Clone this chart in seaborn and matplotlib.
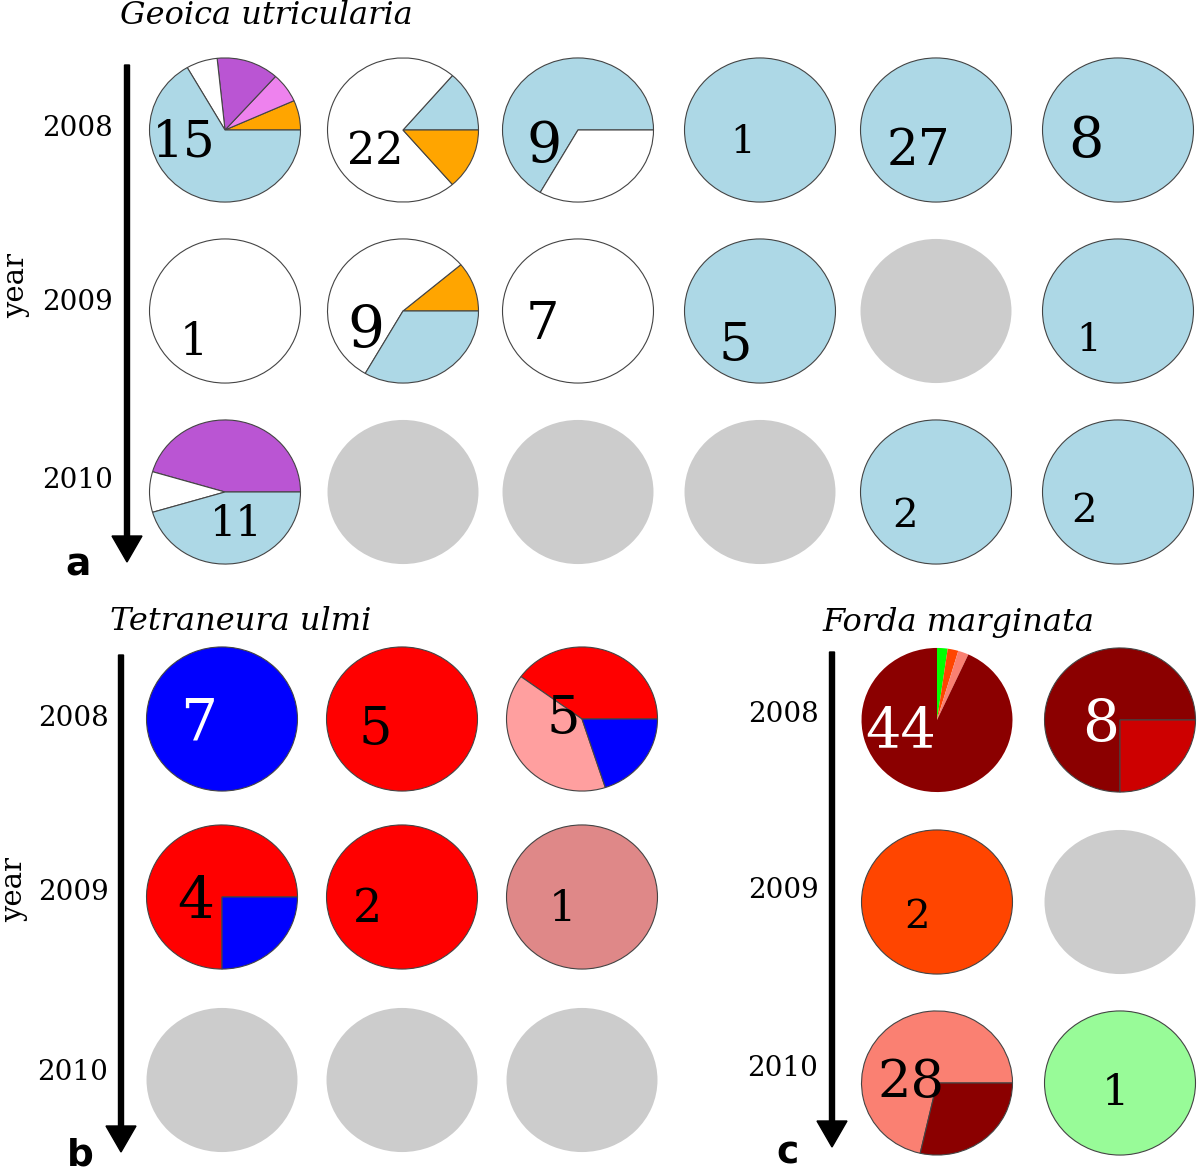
import matplotlib
matplotlib.use("Agg")
import matplotlib.pyplot as plt
import seaborn as sns

sns.set_theme(style="white")
plt.rcParams['font.family'] = ['DejaVu Serif']
plt.rcParams['text.color'] = 'black'

years = ['2008', '2009', '2010']
nodata = '#cccccc'

# Geoica utricularia: slice counts and colours, rows = years, cols = sites
geoica_values = [
    [[1, 1, 2, 1, 10], [3, 16, 3], [6, 3], [1], [27], [8]],
    [[1], [1, 5, 3], [7], [5], [], [1]],
    [[5, 1, 5], [], [], [], [2], [2]],
]
geoica_colors = [
    [['orange', 'violet', 'mediumorchid', 'white', 'lightblue'], ['lightblue', 'white', 'orange'],
     ['lightblue', 'white'], ['lightblue'], ['lightblue'], ['lightblue']],
    [['white'], ['orange', 'white', 'lightblue'], ['white'], ['lightblue'], [], ['lightblue']],
    [['mediumorchid', 'white', 'lightblue'], [], [], [], ['lightblue'], ['lightblue']],
]

# Tetraneura ulmi
tetra_values = [
    [[7], [5], [2, 2, 1]],
    [[3, 1], [2], [1]],
    [[], [], []],
]
tetra_colors = [
    [['blue'], ['red'], ['red', '#ff9f9f', 'blue']],
    [['red', 'blue'], ['red'], ['#df8888']],
    [[], [], []],
]

# Forda marginata
forda_values = [
    [[1, 1, 1, 41], [6, 2]],
    [[2], []],
    [[20, 8], [1]],
]
forda_colors = [
    [['#00ff00', 'orangered', 'salmon', 'darkred'], ['darkred', '#cd0000']],
    [['orangered'], []],
    [['salmon', 'darkred'], ['palegreen']],
]

W, H = 1200, 1175
fig = plt.figure(figsize=(12, 11.75), dpi=100)

# overlay for arrows and text, pixel coordinates
ov = fig.add_axes([0, 0, 1, 1], zorder=0)
ov.set_xlim(0, W)
ov.set_ylim(H, 0)
ov.axis('off')


def draw_panel(values, colors, xs, ys, offsets, sizes, white_labels=(), special=None):
    for r, row in enumerate(values):
        for c, vals in enumerate(row):
            cx, cy = xs[c], ys[r]
            w, h = 154, 147
            ax = fig.add_axes([(cx - w / 2) / W, 1 - (cy + h / 2) / H, w / W, h / H], zorder=2)
            if len(vals) == 0:
                ax.pie([1], colors=[nodata], wedgeprops=dict(linewidth=0))
            else:
                start, ccw, lw = 0, True, 0.8
                if special == (r, c):
                    start, ccw, lw = 90, False, 0
                ax.pie(vals, colors=colors[r][c], startangle=start, counterclock=ccw,
                       wedgeprops=dict(edgecolor='#444444', linewidth=lw))
                dx, dy = offsets[r][c]
                dy += 5
                tc = 'white' if (r, c) in white_labels else 'black'
                ax.text(dx / (w / 2), -dy / (h / 2), str(sum(vals)), ha='center', va='center',
                        fontsize=sizes[r][c], color=tc)
            ax.set_aspect('auto')
            ax.set_xlim(-1.02, 1.02)
            ax.set_ylim(-1.02, 1.02)
            ax.axis('off')


# panel a
draw_panel(geoica_values, geoica_colors,
           [225, 403, 578, 760, 936, 1118], [130, 311, 492],
           [[(-42, 8), (-28, 17), (-35, 12), (-18, 8), (-18, 17), (-33, 7)],
            [(-32, 27), (-38, 15), (-36, 9), (-25, 30), (None, None), (-30, 25)],
            [(12, 28), (None, None), (None, None), (None, None), (-32, 20), (-35, 15)]],
           [[36, 32, 40, 28, 36, 40], [32, 42, 38, 38, 0, 28], [30, 0, 0, 0, 29, 29]])

# panel b
draw_panel(tetra_values, tetra_colors,
           [222, 402, 582], [719, 897, 1080],
           [[(-24, 1), (-27, 6), (-19, -5)], [(-27, 0), (-35, 8), (-20, 7)], [None, None, None]],
           [[42, 38, 38], [42, 33, 31], [0, 0, 0]],
           white_labels=[(0, 0)])

# panel c
draw_panel(forda_values, forda_colors,
           [937, 1120], [720, 902, 1083],
           [[(-37, 7), (-20, 0)], [(-20, 11), None], [(-27, -6), (-5, 5)]],
           [[40, 42], [29, 0], [38, 31]],
           white_labels=[(0, 0), (0, 1)], special=(0, 0))

# arrows
for x, y0, y1 in [(127, 65, 562), (121, 655, 1152), (832, 652, 1147)]:
    ov.arrow(x, y0, 0, y1 - y0, width=5, head_width=30, head_length=26,
             length_includes_head=True, color='black')

# year labels
for x, ylist in [(78, [128, 303, 480]), (73, [718, 893, 1072]), (783, [715, 890, 1068])]:
    for y, yr in zip(ylist, years):
        ov.text(x, y, yr, ha='center', va='center', fontsize=20)
ov.text(16, 285, 'year', rotation=90, ha='center', va='center', fontsize=21)
ov.text(14, 890, 'year', rotation=90, ha='center', va='center', fontsize=21)

# titles
ov.text(120, 15, 'Geoica utricularia', style='italic', ha='left', va='center', fontsize=23)
ov.text(110, 622, 'Tetraneura ulmi', style='italic', ha='left', va='center', fontsize=23)
ov.text(822, 622, 'Forda marginata', style='italic', ha='left', va='center', fontsize=23)

# panel letters
for x, y, s in [(78, 566, 'a'), (80, 1156, 'b'), (788, 1153, 'c')]:
    ov.text(x, y, s, ha='center', va='center', fontsize=27, fontweight='bold', family='DejaVu Sans')

fig.savefig('out.png', dpi=100)
